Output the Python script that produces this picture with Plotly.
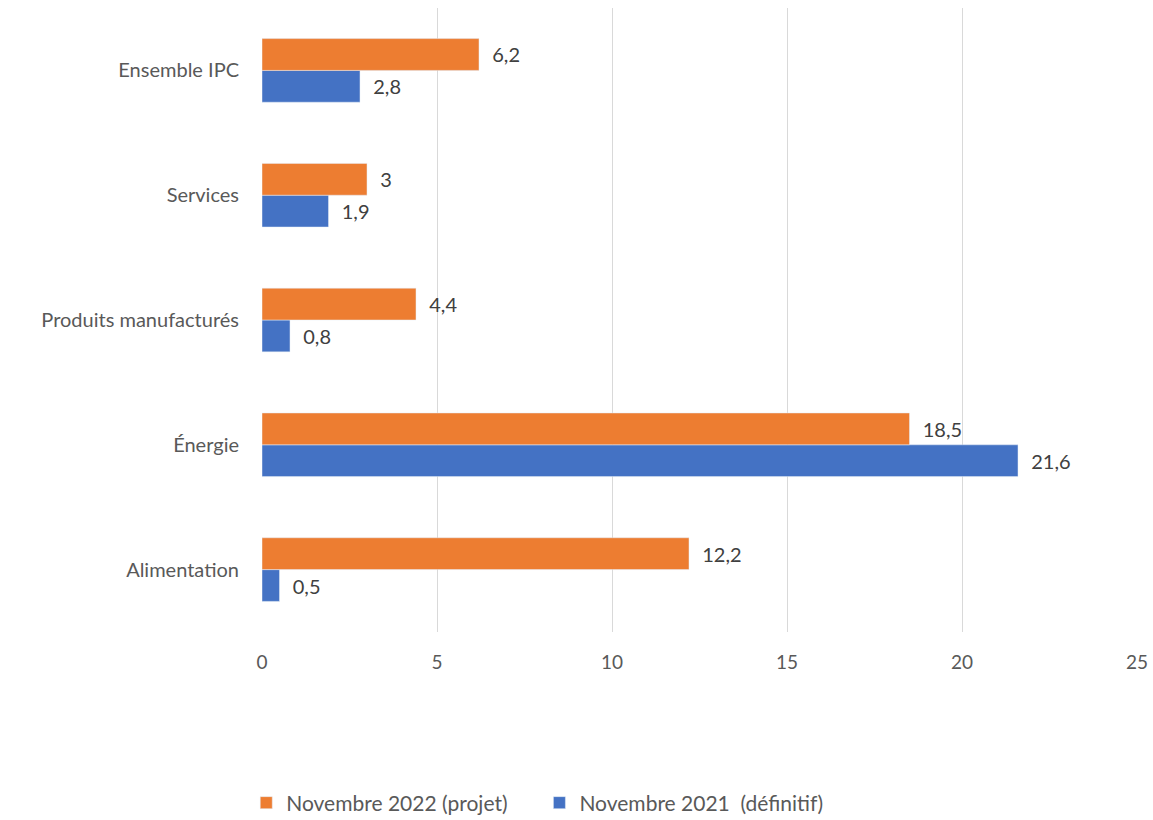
import plotly.graph_objects as go

categories = ["Alimentation", "Énergie", "Produits manufacturés", "Services", "Ensemble IPC"]
nov2021 = [0.5, 21.6, 0.8, 1.9, 2.8]
nov2022 = [12.2, 18.5, 4.4, 3.0, 6.2]
x_ticks = [0, 5, 10, 15, 20, 25]

FONT = "Lato"
fig = go.Figure()
fig.add_trace(go.Bar(
    y=categories, x=nov2021, orientation="h", name="Novembre 2021  (définitif)",
    marker=dict(color="#4472C4"), legendrank=2,
    texttemplate="\u00a0\u00a0%{x}", textposition="outside",
    textfont=dict(size=20, color="#404040", family=FONT), cliponaxis=False,
))
fig.add_trace(go.Bar(
    y=categories, x=nov2022, orientation="h", name="Novembre 2022 (projet)\u00a0\u00a0\u00a0\u00a0\u00a0",
    marker=dict(color="#ED7D31"), legendrank=1,
    texttemplate="\u00a0\u00a0%{x}", textposition="outside",
    textfont=dict(size=20, color="#404040", family=FONT), cliponaxis=False,
))
fig.update_layout(
    width=1153, height=820,
    margin=dict(l=262, r=16, t=8, b=188, autoexpand=False),
    barmode="group", bargap=0.49, bargroupgap=0,
    plot_bgcolor="white", paper_bgcolor="white",
    separators=", ",
    font=dict(family=FONT, size=20, color="#595959"),
    xaxis=dict(range=[0, 25], tickvals=x_ticks, showgrid=True, gridcolor="#d9d9d9",
               gridwidth=1, zeroline=False, showline=False, automargin=False,
               ticks="outside", ticklen=13, tickcolor="rgba(0,0,0,0)",
               tickfont=dict(size=19, color="#595959")),
    yaxis=dict(showgrid=False, showline=False, zeroline=False, automargin=False,
               ticks="outside", ticklen=18, tickcolor="rgba(0,0,0,0)",
               tickfont=dict(size=20, color="#595959")),
    legend=dict(orientation="h", x=-0.018, xanchor="left", y=-0.274, yanchor="middle",
                font=dict(size=21, color="#595959"), itemwidth=30, traceorder="normal"),
    showlegend=True,
)
fig.write_html("out.html")
